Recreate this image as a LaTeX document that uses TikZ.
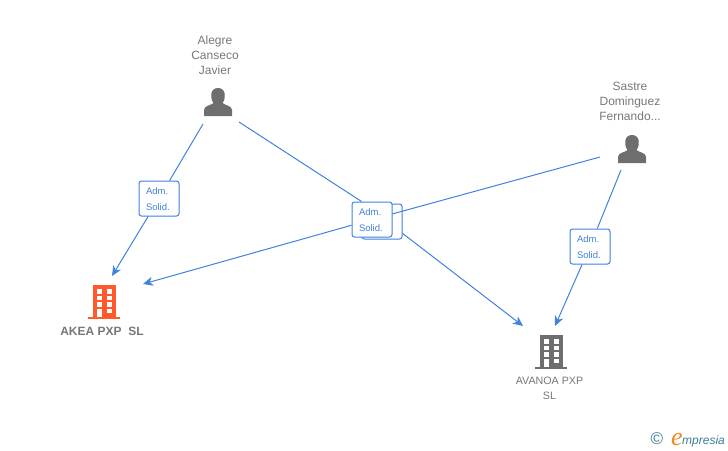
\documentclass[tikz,border=0pt]{standalone}
\usepackage{fontspec}
\setmainfont{Liberation Sans}
\newfontfamily\logofont{Liberation Serif}
\usepackage{tikz}
\usetikzlibrary{arrows.meta}

\definecolor{linkblue}{HTML}{3F82E0}
\definecolor{textgray}{HTML}{777777}
\definecolor{icongray}{HTML}{6E6E6E}
\definecolor{akeaorange}{HTML}{FF5A2B}
\definecolor{logoteal}{HTML}{3D7F99}
\definecolor{logoorange}{HTML}{F08A1D}

\tikzset{
    namelabel/.style={text=textgray, align=center, inner sep=0pt, font=\fontsize{12}{15}\selectfont},
    rolebox/.style={draw=linkblue, fill=white, rounded corners=2.5pt, line width=1pt, minimum width=40pt,
        minimum height=35pt, inner sep=0pt, text width=26pt, align=left, text=linkblue,
        font=\fontsize{9.5}{16}\selectfont, text height=7pt, text depth=16pt},
    link/.style={draw=linkblue, line width=1pt},
    arrowlink/.style={link, ->, >={Stealth[length=10pt,width=9pt,inset=3pt]}},
    personicon/.pic={
        \fill[icongray] (-14,14) -- (-14,8) .. controls (-14,3.5) and (-7,3.5) .. (-4.5,1)
            .. controls (-8,-3) and (-8.5,-14) .. (0,-14) .. controls (8.5,-14) and (8,-3) .. (4.5,1)
            .. controls (7,3.5) and (14,3.5) .. (14,8) -- (14,14) -- cycle;
    },
    buildingicon/.pic={
        \fill[#1] (-11.5,-17) rectangle (11.5,14.5);
        \fill[#1] (-16,14.5) rectangle (16,17);
        % Windows in three rows, door below
        \foreach \wx in {-7.5,2.5} {
            \foreach \wy in {-13,-6.5,0} {
                \fill[white] (\wx,\wy) rectangle ++(5,4.7);
            }
        }
        \fill[white] (-7.5,6.5) rectangle (-2.5,14.5);
        \fill[white] (2.5,6.5) rectangle (7.5,11.2);
    },
}

\begin{document}
\begin{tikzpicture}[x=1pt,y=-1pt]
    \useasboundingbox (0,0) rectangle (728,450);

    % People
    \pic at (218,102) {personicon};
    \pic at (632,149) {personicon};
    \node[namelabel] (alegre) at (215,55) {Alegre\\Canseco\\Javier};
    \node[namelabel] (sastre) at (630,101) {Sastre\\Dominguez\\Fernando...};

    % Companies
    \pic at (104,302) {buildingicon=akeaorange};
    \pic at (551,352) {buildingicon=icongray};
    \node[namelabel, font=\fontsize{12}{15}\selectfont\bfseries] (akea) at (102,331) {AKEA PXP\ \ SL};
    \node[namelabel, font=\fontsize{10.7}{15}\selectfont] (avanoa) at (549.5,388.5) {AVANOA PXP\\SL};

    % Free ends of the connectors
    \coordinate (alegreLeft) at (203,124);
    \coordinate (alegreRight) at (239,122);
    \coordinate (sastreLeft) at (600,157);
    \coordinate (sastreDown) at (621,170);
    \coordinate (akeaTop) at (112,276);
    \coordinate (akeaRight) at (143,284);
    \coordinate (avanoaLeft) at (523,326);
    \coordinate (avanoaTop) at (555,326);

    % Role boxes
    \node[rolebox] (roleAkea) at (159,198.5) {Adm.\\Solid.};
    \node[rolebox] (roleAvanoa) at (590,246.5) {Adm.\\Solid.};
    \node[rolebox] (roleBack) at (382,221.5) {};
    \node[rolebox] (roleFront) at (372,219.5) {Adm.\\Solid.};

    % Connectors
    \draw[link] (alegreLeft) -- (roleAkea);
    \draw[arrowlink] (roleAkea) -- (akeaTop);
    \draw[link] (sastreDown) -- (roleAvanoa);
    \draw[arrowlink] (roleAvanoa) -- (avanoaTop);
    \draw[link] (alegreRight) -- (roleFront.120);
    \draw[arrowlink] (roleBack.-30) -- (avanoaLeft);
    \draw[link] (sastreLeft) -- (roleFront);
    \draw[arrowlink] (roleFront) -- (akeaRight);

    % Logo
    \node[inner sep=0pt, text=logoteal, font=\fontsize{17}{17}\selectfont] (copyright) at (657,439) {©};
    \node[inner sep=0pt, anchor=base west, text=logoorange, font=\logofont\itshape\fontsize{26}{26}\selectfont] (logoE) at (671,445) {e};
    \node[inner sep=0pt, anchor=base west, text=logoteal, font=\itshape\fontsize{12}{14}\selectfont] (logoText) at (682,444) {mpresia};
\end{tikzpicture}
\end{document}
